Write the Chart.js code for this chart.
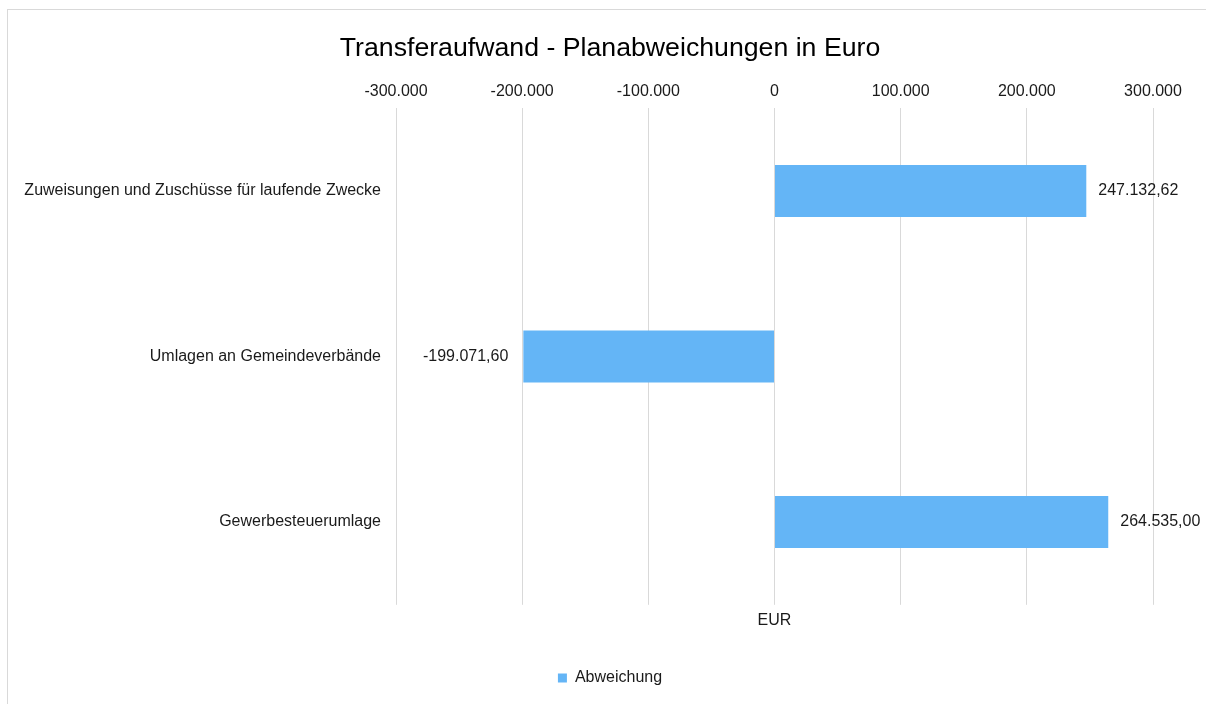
<!DOCTYPE html>
<html lang="de">
<head>
<meta charset="utf-8">
<title>Transferaufwand - Planabweichungen in Euro</title>
<script src="https://cdn.jsdelivr.net/npm/chart.js@4"></script>
<style>
  html, body { margin: 0; padding: 0; overflow: hidden; background: #fff; }
  #wrap { position: relative; width: 1206px; height: 704px; }
  #rahmen { position: absolute; left: 7px; top: 9px; width: 1300px; height: 800px; border: 1px solid #d9d9d9; }
  #grafik { position: absolute; left: 0; top: 0; }
</style>
</head>
<body>
<div id="wrap">
  <div id="rahmen"></div>
  <canvas id="grafik" width="1206" height="704"></canvas>
</div>
<script>
// --- Daten ---
const kategorien = ['Zuweisungen und Zuschüsse für laufende Zwecke', 'Umlagen an Gemeindeverbände', 'Gewerbesteuerumlage'];
const abweichung = [247132.62, -199071.60, 264535.00];
const achseMin = -300000;
const achseMax = 300000;
const achseSchritt = 100000;

// Zahl im deutschen Format (Tausenderpunkt, Dezimalkomma)
function formatDE(wert, stellen) {
  const neg = wert < 0;
  const teile = Math.abs(wert).toFixed(stellen).split('.');
  const ganz = teile[0].replace(/\B(?=(\d{3})+(?!\d))/g, '.');
  return (neg ? '-' : '') + ganz + (teile[1] ? ',' + teile[1] : '');
}

const schrift = "'Liberation Sans', Arial, sans-serif";
const textFarbe = '#1a1a1a';

// Beschriftung außerhalb der Balkenenden
const balkenWerte = {
  id: 'balkenWerte',
  afterDatasetsDraw(chart) {
    const ctx = chart.ctx;
    const meta = chart.getDatasetMeta(0);
    ctx.save();
    ctx.font = '16px ' + schrift;
    ctx.fillStyle = textFarbe;
    ctx.textBaseline = 'middle';
    meta.data.forEach((bar, i) => {
      const v = chart.data.datasets[0].data[i];
      if (v >= 0) {
        ctx.textAlign = 'left';
        ctx.fillText(formatDE(v, 2), bar.x + 12, bar.y);
      } else {
        ctx.textAlign = 'right';
        ctx.fillText(formatDE(v, 2), bar.x - 15, bar.y);
      }
    });
    ctx.restore();
  }
};

const ctx = document.getElementById('grafik').getContext('2d');

new Chart(ctx, {
  type: 'bar',
  data: {
    labels: kategorien,
    datasets: [{
      label: 'Abweichung',
      data: abweichung,
      backgroundColor: '#64b5f6',
      borderWidth: 0,
      barPercentage: 1,
      categoryPercentage: 0.314
    }]
  },
  options: {
    indexAxis: 'y',
    responsive: false,
    animation: false,
    layout: { padding: { left: 14, right: 0, top: 0, bottom: 8 } },
    plugins: {
      title: {
        display: true,
        text: 'Transferaufwand - Planabweichungen in Euro',
        color: '#000',
        font: { family: schrift, size: 26.7, weight: 'normal' },
        padding: { top: 33, bottom: 10 }
      },
      legend: {
        position: 'bottom',
        labels: {
          color: textFarbe,
          font: { family: schrift, size: 16 },
          boxWidth: 9,
          boxHeight: 9,
          padding: 10
        }
      },
      tooltip: { enabled: false }
    },
    scales: {
      x: {
        position: 'top',
        min: achseMin,
        max: achseMax,
        grid: { color: '#d9d9d9', drawTicks: false },
        border: { display: false },
        ticks: {
          stepSize: achseSchritt,
          padding: 7,
          color: textFarbe,
          font: { family: schrift, size: 16 },
          maxRotation: 0,
          callback: v => formatDE(v, 0)
        }
      },
      x2: {
        type: 'linear',
        position: 'bottom',
        display: true,
        grid: { display: false, drawTicks: false },
        border: { display: false },
        ticks: { display: false },
        title: {
          display: true,
          text: 'EUR',
          color: textFarbe,
          font: { family: schrift, size: 16 },
          padding: { top: 6, bottom: 30 }
        }
      },
      y: {
        grid: { display: false, drawTicks: false },
        border: { display: false },
        ticks: {
          padding: 15,
          color: textFarbe,
          font: { family: schrift, size: 16 }
        },
        afterFit: s => { s.width = 382; }
      },
      y2: {
        type: 'linear',
        position: 'right',
        display: true,
        grid: { display: false, drawTicks: false },
        border: { display: false },
        ticks: { display: false },
        afterFit: s => { s.width = 53; }
      }
    }
  },
  plugins: [balkenWerte]
});
</script>
</body>
</html>
